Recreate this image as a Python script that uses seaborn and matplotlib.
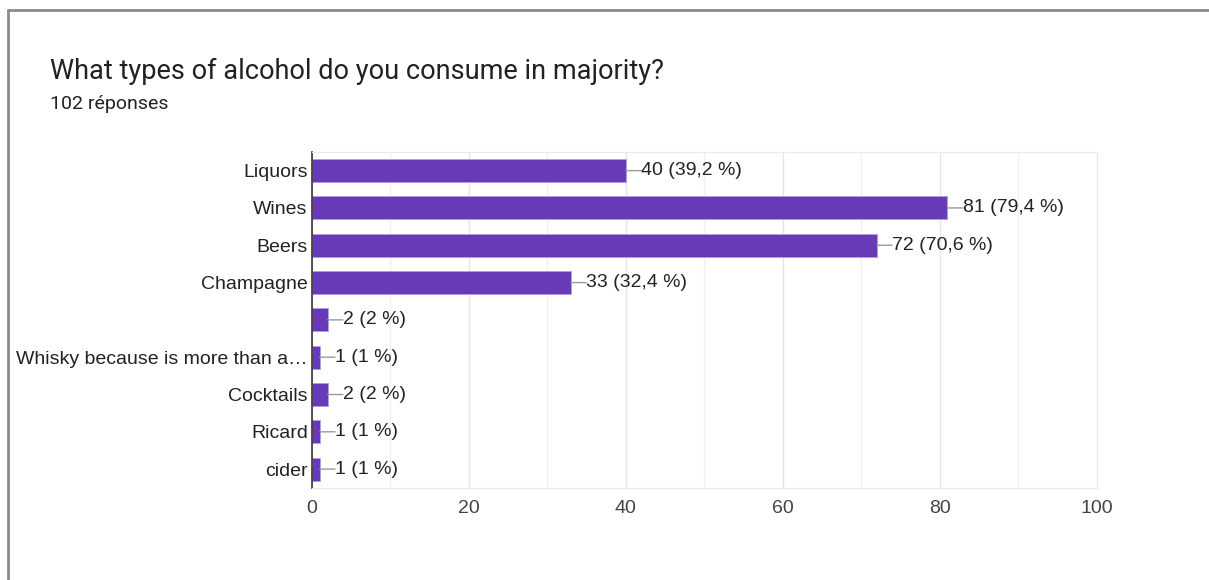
import pandas as pd
import matplotlib.pyplot as plt
import seaborn as sns
from matplotlib.lines import Line2D

# Survey answers
categories = ['Liquors', 'Wines', 'Beers', 'Champagne', ' ',
              'Whisky because is more than a…', 'Cocktails', 'Ricard', 'cider']
counts = [40, 81, 72, 33, 2, 1, 2, 1, 1]
percents = ['39,2', '79,4', '70,6', '32,4', '2', '1', '2', '1', '1']
x_ticks = [0, 20, 40, 60, 80, 100]

df = pd.DataFrame({'answer': categories, 'count': counts})

sns.set_style('white')
plt.rcParams['font.family'] = ['Liberation Sans', 'DejaVu Sans']

fig = plt.figure(figsize=(12.09, 5.8), dpi=100)
ax = fig.add_axes([0.258, 0.159, 0.649, 0.579])

sns.barplot(data=df, y='answer', x='count', orient='h', color='#673ab7',
            saturation=1, width=0.62, edgecolor='#b39ddb', linewidth=0.6, ax=ax)

# value labels with a short leader line
for i, (v, p) in enumerate(zip(counts, percents)):
    ax.annotate(f'{v} ({p} %)', xy=(v, i), xytext=(11, 0), textcoords='offset points',
                ha='left', va='center', fontsize=14, color='#222222',
                arrowprops=dict(arrowstyle='-', color='#999999', lw=1,
                                shrinkA=0, shrinkB=0, patchA=None,
                                relpos=(0, 0.5)))

ax.set_xlim(0, 100)
ax.set_ylim(8.5, -0.5)
ax.set_xticks(x_ticks)
ax.set_xticks(range(10, 100, 20), minor=True)
ax.grid(axis='x', which='major', color='#e6e6e6', lw=1)
ax.grid(axis='x', which='minor', color='#f0f0f0', lw=1)
ax.set_axisbelow(True)
ax.set_xlabel('')
ax.set_ylabel('')
ax.tick_params(axis='both', length=0, labelsize=14)
ax.tick_params(axis='x', pad=9, labelcolor='#444444')
ax.tick_params(axis='y', pad=3, labelcolor='#222222')
for side in ['top', 'right', 'bottom']:
    ax.spines[side].set_color('#ebebeb')
ax.spines['left'].set_color('#333333')
ax.spines['left'].set_linewidth(1.2)

fig.text(0.041, 0.876, 'What types of alcohol do you consume in majority?',
         fontsize=19.5, family='Roboto', color='#202124', va='center')
fig.text(0.041, 0.820, '102 réponses', fontsize=14, family='Roboto',
         color='#202124', va='center')

# card border
fig.add_artist(Line2D([0.007, 1.0], [0.983, 0.983], color='#8a8a8a', lw=2,
                      transform=fig.transFigure))
fig.add_artist(Line2D([0.007, 0.007], [0.0, 0.983], color='#8a8a8a', lw=2,
                      transform=fig.transFigure))

fig.savefig('out.png', dpi=100)
